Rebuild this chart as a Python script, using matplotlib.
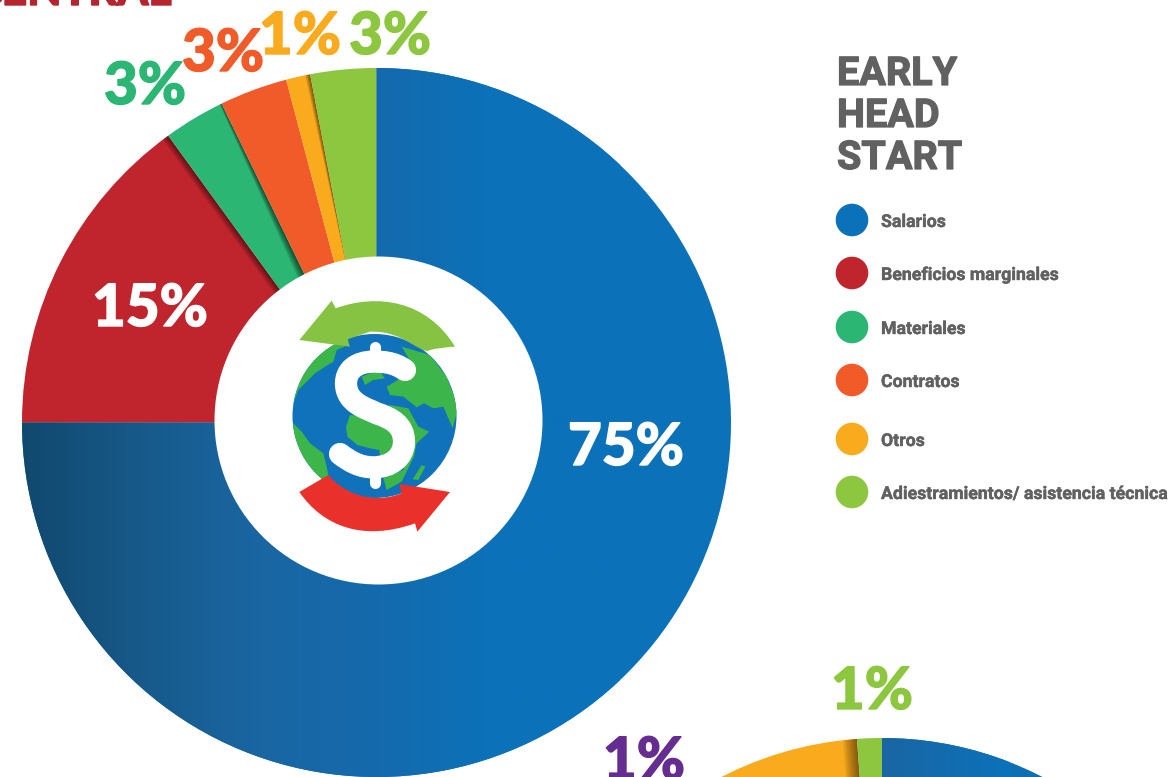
import numpy as np
import matplotlib
matplotlib.use('Agg')
import matplotlib.pyplot as plt
import matplotlib.patheffects as pe
from matplotlib.colors import LinearSegmentedColormap
from matplotlib.patches import Circle, PathPatch
from matplotlib.path import Path

# data
labels = ['Salarios', 'Beneficios marginales', 'Materiales', 'Contratos', 'Otros',
          'Adiestramientos/ asistencia técnica']
values = [75, 15, 2.8, 3.1, 1.1, 3.0]
colors = ['#0B72BA', '#C0252D', '#2BB673', '#F15A29', '#F9AB1D', '#8DC63F']
pct_text = ['75%', '15%', '3%', '3%', '1%', '3%']
pct_x = [626, 150, 145, 223, 300, 390]
pct_y = [465, 326, 104, 71, 54, 54]
pct_col = ['white', 'white', colors[2], colors[3], colors[4], colors[5]]
legend_y = [220, 273, 327, 380, 439, 492]

# next chart, only its top edge is on the page
next_values = [85, 13.86, 1.14]
next_colors = ['#0F6FB3', '#F9AB1D', '#8DC63F']

# gradient of the blue slice
grad_stops = ['#11486E', '#175A8A', '#1A66A3', '#146AAD', '#0B72BA', '#0B72BA']

plt.rcParams['font.family'] = ['Lato', 'DejaVu Sans']

fig = plt.figure(figsize=(11.7, 7.77), dpi=100)
ax = fig.add_axes([0, 0, 1, 1])

cx, cy, R = 376.5, 422.5, 354.5
wedges, _ = ax.pie(values, colors=colors, startangle=-90, counterclock=True,
                   center=(cx, cy), radius=R, frame=True,
                   wedgeprops=dict(linewidth=0))
wedges2, _ = ax.pie(next_values, colors=next_colors, startangle=-90, counterclock=True,
                    center=(882, 1088), radius=350, frame=True,
                    wedgeprops=dict(linewidth=0))

# blue gets a left to right gradient
cmap = LinearSegmentedColormap.from_list('blue', grad_stops)
im = ax.imshow(np.linspace(0, 1, 256)[None, :], cmap=cmap, extent=(22, 620, 777, 68),
               aspect='auto', zorder=1.5)
im.set_clip_path(wedges[0])
cmap2 = LinearSegmentedColormap.from_list('blue2', ['#1A66A3', '#0B72BA'])
im2 = ax.imshow(np.linspace(0, 1, 64)[None, :], cmap=cmap2, extent=(882, 1010, 777, 738),
                aspect='auto', zorder=1.5)
im2.set_clip_path(wedges2[0])


def shadow(wedge, c, r_in, r_out, pct, w_out, w_in, alpha, col='black'):
    # soft strip along the clockwise edge of a slice
    a = np.radians(-90 + pct * 3.6)
    ux, uy = np.cos(a), np.sin(a)
    nx, ny = np.sin(a), -np.cos(a)
    for f in np.linspace(1, 0.1, 8):
        p0 = (c[0] + ux * r_out, c[1] + uy * r_out)
        p1 = (c[0] + ux * r_in, c[1] + uy * r_in)
        p2 = (p1[0] + nx * w_in * f, p1[1] + ny * w_in * f)
        p3 = (p0[0] + nx * w_out * f, p0[1] + ny * w_out * f)
        poly = ax.fill([p0[0], p1[0], p2[0], p3[0]], [p0[1], p1[1], p2[1], p3[1]],
                       color=col, alpha=alpha, lw=0, zorder=2)[0]
        poly.set_clip_path(wedge)


cum = np.cumsum(values)
shadow(wedges[1], (cx, cy), 150, R, cum[1], 7, 7, 0.07)
shadow(wedges[2], (cx, cy), 150, R, cum[2], 2, 8, 0.09)
shadow(wedges[4], (cx, cy), 150, R, cum[4], 5, 0, 0.08)
shadow(wedges2[1], (882, 1088), 200, 350, 100 - next_values[2], 14, 14, 0.07)

# hole
ax.add_patch(Circle((378.5, 420.5), 164, fc='white', ec='none', zorder=3))


# icon in the middle, traced in zoomed coordinates
def z(pts):
    return [(x / 3 + 270, y / 3 + 280) for x, y in pts]


globe = Circle((374.5, 416), 82, fc='#1072BA', ec='none', zorder=4)
ax.add_patch(globe)
land = [
    [(70, 370), (85, 330), (110, 305), (135, 280), (165, 260), (190, 245), (200, 210),
     (235, 195), (235, 150), (120, 190), (60, 300)],
    [(70, 430), (95, 455), (120, 490), (160, 520), (170, 560), (178, 600), (150, 600),
     (100, 540), (60, 470)],
    [(240, 405), (228, 440), (232, 470), (262, 495), (300, 505), (328, 510), (330, 530),
     (372, 510), (385, 460), (300, 410)],
    [(340, 595), (350, 630), (395, 605), (432, 530), (440, 490), (478, 455), (445, 440),
     (415, 385), (360, 375), (330, 400), (420, 480), (400, 570)],
    [(428, 598), (455, 555), (466, 560), (445, 600)],
    [(395, 200), (480, 225), (530, 290), (565, 380), (548, 445), (520, 380), (490, 385),
     (462, 370), (440, 382), (400, 350), (360, 345), (350, 320), (400, 290), (425, 250)],
    [(275, 290), (300, 280), (330, 275), (345, 295), (310, 300), (285, 315)],
]
for shape in land:
    pts = z(shape)
    poly = ax.fill([p[0] for p in pts], [p[1] for p in pts], color='#3CB54A', lw=0, zorder=4.1)[0]
    poly.set_clip_path(globe)

s_verts = z([(405, 270), (370, 245), (335, 245), (310, 245), (260, 245), (228, 270), (228, 310),
             (228, 370), (290, 385), (320, 400), (365, 415), (402, 435), (402, 485),
             (402, 530), (365, 562), (310, 562), (270, 562), (240, 545), (210, 522)])
s_codes = [Path.MOVETO] + [Path.CURVE4] * 18
ax.add_patch(PathPatch(Path(s_verts, s_codes), fc='none', ec='white', lw=16,
                       capstyle='round', joinstyle='round', zorder=4.5))
ax.plot(*zip(*z([(315, 200), (315, 250)])), color='white', lw=8, solid_capstyle='round', zorder=4.5)
ax.plot(*zip(*z([(315, 555), (315, 610)])), color='white', lw=8, solid_capstyle='round', zorder=4.5)

green_arrow = z([(88, 180), (185, 62), (197, 85), (320, 40), (470, 60), (555, 200), (505, 203),
                 (480, 210), (455, 228), (400, 150), (300, 155), (232, 178), (240, 200), (88, 180)])
green_codes = [Path.MOVETO, Path.LINETO, Path.LINETO, Path.CURVE4, Path.CURVE4, Path.CURVE4,
               Path.CURVE3, Path.CURVE3, Path.CURVE4, Path.CURVE4, Path.CURVE4,
               Path.LINETO, Path.LINETO, Path.CLOSEPOLY]
ax.add_patch(PathPatch(Path(green_arrow, green_codes), fc='#86C343', ec='none', zorder=5))

red_arrow = z([(88, 636), (175, 585), (230, 650), (320, 670), (395, 640), (388, 612), (540, 636),
               (442, 755), (435, 730), (280, 785), (160, 740), (88, 636), (88, 636)])
red_codes = [Path.MOVETO, Path.LINETO, Path.CURVE4, Path.CURVE4, Path.CURVE4, Path.LINETO,
             Path.LINETO, Path.LINETO, Path.LINETO, Path.CURVE4, Path.CURVE4, Path.CURVE4,
             Path.CLOSEPOLY]
ax.add_patch(PathPatch(Path(red_arrow, red_codes), fc='#E9302A', ec='none', zorder=5))


def heavy(col, w=1.0):
    # the font has no weight heavy enough, thicken it with a stroke
    return [pe.withStroke(linewidth=w, foreground=col)]


# percent labels
for t, x, y, c in zip(pct_text, pct_x, pct_y, pct_col):
    ax.text(x, y, t, color=c, fontsize=42, fontweight='black', ha='center', va='baseline', zorder=6,
            path_effects=heavy(c))
ax.text(872, 709, '1%', color='#8DC63F', fontsize=42, fontweight='black', ha='center', va='baseline',
        path_effects=heavy('#8DC63F'))
ax.text(644, 779, '1%', color='#662D91', fontsize=42, fontweight='black', ha='center', va='baseline',
        path_effects=heavy('#662D91'))
ax.text(172, 5, 'CENTRAL', color='#B5252F', fontsize=32, fontweight='black', ha='right', va='baseline',
        path_effects=heavy('#B5252F'))

# legend
for word, y in zip(['EARLY', 'HEAD', 'START'], [85, 127, 169]):
    ax.text(837, y, word, color='#616161', fontsize=28.5, fontweight='bold', family=['Roboto', 'DejaVu Sans'],
            ha='left', va='baseline', path_effects=heavy('#616161', 0.9))
for lab, y, c in zip(labels, legend_y, colors):
    ax.add_patch(Circle((852, y), 16.3, fc=c, ec='none'))
    ax.text(881, y + 2, lab, color='#616161', fontsize=12.75, fontweight='bold', family=['Roboto', 'DejaVu Sans'],
            ha='left', va='center', path_effects=heavy('#616161', 0.3))

ax.set_xlim(0, 1170)
ax.set_ylim(777, 0)
ax.set_aspect('auto')
ax.axis('off')
fig.savefig('out.png', dpi=100)
